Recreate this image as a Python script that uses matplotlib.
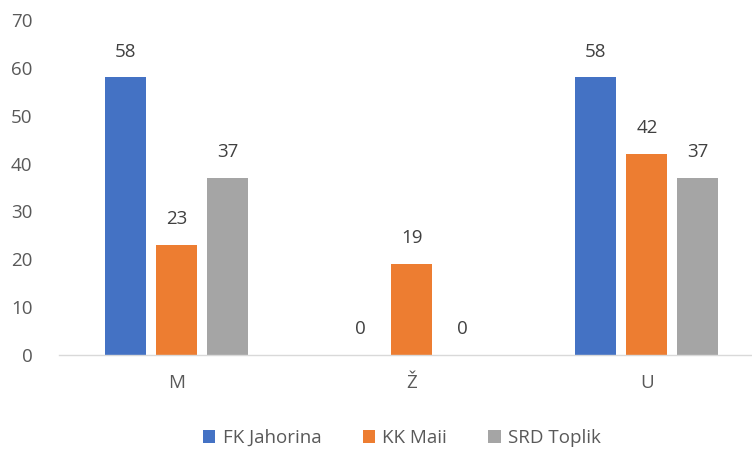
import numpy as np
import matplotlib.pyplot as plt

# Data
categories = ["M", "Ž", "U"]
series_names = ["FK Jahorina", "KK Maii", "SRD Toplik"]
fk_jahorina = [58, 0, 58]
kk_maii = [23, 19, 42]
srd_toplik = [37, 0, 37]

colors = ["#4472C4", "#ED7D31", "#A5A5A5"]

plt.rcParams['font.family'] = ['Open Sans', 'DejaVu Sans']

fig = plt.figure(figsize=(7.52, 4.5), dpi=100)
ax = fig.add_axes([59 / 752, 1 - 355 / 450, 1 - 59 / 752, (355 - 20) / 450])

x = np.arange(len(categories))
width = 0.175
step = 0.217

for i, (vals, name, col) in enumerate(zip([fk_jahorina, kk_maii, srd_toplik], series_names, colors)):
    bars = ax.bar(x + (i - 1) * step, vals, width, color=col, label=name)
    ax.bar_label(bars, padding=12, fontsize=13.5, color="#404040")

ax.set_xlim(-0.5, 2.447)
ax.set_ylim(0, 70)
ax.set_yticks(range(0, 71, 10))
ax.set_xticks(x)
ax.set_xticklabels(categories)

for s in ["top", "right", "left"]:
    ax.spines[s].set_visible(False)
ax.spines["bottom"].set_color("#D9D9D9")
ax.spines["bottom"].set_linewidth(1)
ax.tick_params(axis="both", length=0, labelsize=13.5, colors="#595959")
ax.tick_params(axis="x", pad=14)
ax.tick_params(axis="y", pad=19)

leg = fig.legend(loc="center", bbox_to_anchor=(402 / 752, 1 - 438 / 450), ncol=3,
                 frameon=False, fontsize=13.5, handlelength=0.65, handleheight=0.65,
                 columnspacing=2.2, handletextpad=0.4)
for t in leg.get_texts():
    t.set_color("#595959")

fig.savefig("out.png", dpi=100)
